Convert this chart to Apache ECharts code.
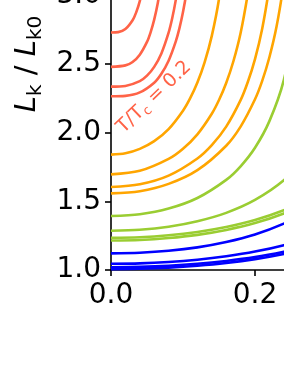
<!DOCTYPE html>
<html><head><meta charset="utf-8">
<script src="https://cdn.jsdelivr.net/npm/echarts@6/dist/echarts.min.js"></script>
<style>html,body{margin:0;padding:0;background:#fff;overflow:hidden;width:284px;height:367px;position:relative}
#c{position:absolute;left:0;top:-150px;width:500px;height:517px}</style>
</head><body><div id="c"></div>
<script>
// values: [x, Lk/Lk0]
const red1 = [[0,2.729],[0.01,2.732],[0.02,2.755],[0.03,2.819],[0.035,2.876],[0.04,2.958],[0.045,3.074],[0.05,3.24]];
const red2 = [[0,2.479],[0.02,2.49],[0.03,2.515],[0.04,2.568],[0.05,2.661],[0.055,2.731],[0.06,2.823],[0.065,2.944],[0.07,3.107],[0.075,3.333]];
const red3 = [[0,2.335],[0.02,2.34],[0.04,2.375],[0.05,2.415],[0.06,2.479],[0.07,2.577],[0.08,2.728],[0.085,2.833],[0.09,2.967],[0.095,3.141]];
const red4 = [[0,2.265],[0.02,2.268],[0.04,2.293],[0.06,2.364],[0.07,2.429],[0.08,2.524],[0.09,2.665],[0.095,2.759],[0.10,2.878],[0.105,3.028],[0.11,3.224]];

const orange1 = [[0,1.84],[0.02,1.85],[0.04,1.882],[0.06,1.938],[0.08,2.026],[0.10,2.16],[0.11,2.251],[0.12,2.365],[0.13,2.512],[0.14,2.705],[0.15,2.973],[0.16,3.369]];
const orange2 = [[0,1.696],[0.04,1.722],[0.08,1.809],[0.10,1.883],[0.12,1.988],[0.14,2.138],[0.15,2.238],[0.16,2.362],[0.17,2.52],[0.18,2.726],[0.19,3.012],[0.195,3.202]];
const orange3 = [[0,1.604],[0.04,1.624],[0.08,1.687],[0.12,1.812],[0.14,1.909],[0.16,2.044],[0.18,2.237],[0.19,2.369],[0.20,2.536],[0.21,2.757],[0.22,3.064],[0.225,3.27]];
const orange4 = [[0,1.558],[0.04,1.574],[0.08,1.627],[0.12,1.727],[0.16,1.905],[0.18,2.044],[0.20,2.243],[0.21,2.377],[0.22,2.549],[0.23,2.774],[0.24,3.087],[0.245,3.297]];

const green1 = [[0,1.393],[0.04,1.406],[0.08,1.447],[0.12,1.524],[0.16,1.656],[0.18,1.755],[0.20,1.89],[0.22,2.084],[0.24,2.383],[0.26,2.921]];
const green2 = [[0,1.286],[0.04,1.293],[0.08,1.315],[0.12,1.355],[0.16,1.416],[0.20,1.51],[0.24,1.653],[0.27,1.818]];
const green3 = [[0,1.235],[0.04,1.239],[0.08,1.253],[0.12,1.277],[0.16,1.313],[0.20,1.364],[0.24,1.435],[0.27,1.507]];
const green4 = [[0,1.215],[0.04,1.219],[0.08,1.233],[0.12,1.256],[0.16,1.292],[0.20,1.342],[0.24,1.412],[0.27,1.483]];

const blue1 = [[0,1.121],[0.04,1.126],[0.08,1.14],[0.12,1.165],[0.16,1.204],[0.20,1.259],[0.24,1.338],[0.27,1.42]];
const blue2 = [[0,1.045],[0.04,1.048],[0.08,1.058],[0.12,1.075],[0.16,1.10],[0.20,1.134],[0.24,1.181],[0.27,1.228]];
const blue3 = [[0,1.02],[0.04,1.023],[0.08,1.031],[0.12,1.045],[0.16,1.066],[0.20,1.094],[0.24,1.133],[0.27,1.169]];
const blue4 = [[0,1.006],[0.04,1.009],[0.08,1.017],[0.12,1.031],[0.16,1.051],[0.20,1.079],[0.24,1.117],[0.27,1.153]];

const xTicks = [0.0, 0.2, 0.4];
const yTicks = [1.0, 1.5, 2.0, 2.5, 3.0, 3.5, 4.0];
const annotationText = 'T/T';
const annotationSub = 'c';
const annotationValue = ' = 0.2';
const annotationAt = [0.06, 2.258];

const palette = {red:'#ff6347', orange:'#ffa500', green:'#9acd32', blue:'#0000ff'};
const groups = [
  [palette.red, [red1, red2, red3, red4]],
  [palette.orange, [orange1, orange2, orange3, orange4]],
  [palette.green, [green1, green2, green3, green4]],
  [palette.blue, [blue1, blue2, blue3, blue4]]
];
const series = [];
groups.forEach(([color, arrs]) => arrs.forEach(d => series.push({
  type:'line', data:d, showSymbol:false, smooth:0.3,
  lineStyle:{color, width:2.6}, itemStyle:{color}, silent:true
})));

const font = 'DejaVu Sans';
const chart = echarts.init(document.getElementById('c'), null, {renderer:'canvas'});
chart.setOption({
  animation:false,
  backgroundColor:'#fff',
  grid:{left:111, right:101, top:8, bottom:97, containLabel:false, outerBoundsMode:'none'},
  xAxis:{type:'value', min:xTicks[0], max:xTicks[xTicks.length-1], interval:0.2,
    axisLine:{lineStyle:{color:'#000', width:1.6}},
    axisTick:{length:6, lineStyle:{color:'#000', width:1.6}},
    axisLabel:{fontFamily:font, fontSize:28, color:'#000', margin:12, formatter:v=>v.toFixed(1)},
    splitLine:{show:false}},
  yAxis:{type:'value', min:yTicks[0], max:yTicks[yTicks.length-1], interval:0.5,
    axisLine:{lineStyle:{color:'#000', width:1.6}},
    axisTick:{length:6, lineStyle:{color:'#000', width:1.6}},
    axisLabel:{fontFamily:font, fontSize:28, color:'#000', margin:10, formatter:v=>v.toFixed(1)},
    splitLine:{show:false},
    name:'{L|L}{s|k}{n| / }{L|L}{s|k0}', nameLocation:'middle', nameRotate:90, nameGap:60,
    nameTextStyle:{rich:{
      L:{fontFamily:font, fontStyle:'italic', fontSize:29, lineHeight:36, color:'#000', verticalAlign:'middle'},
      n:{fontFamily:font, fontSize:29, lineHeight:36, color:'#000', verticalAlign:'middle'},
      s:{fontFamily:font, fontSize:20, lineHeight:20, color:'#000', verticalAlign:'bottom'}
    }}},
  series
});
const p = chart.convertToPixel({gridIndex:0}, annotationAt);
chart.setOption({graphic:[{
  type:'text', x:p[0], y:p[1], rotation:44*Math.PI/180, silent:true,
  style:{text:'{a|'+annotationText+'}{b|'+annotationSub+'}{a|'+annotationValue+'}', align:'center', verticalAlign:'middle',
    rich:{a:{fontFamily:font, fontSize:19, lineHeight:24, fill:palette.red, verticalAlign:'middle'},
          b:{fontFamily:font, fontSize:13, lineHeight:14, fill:palette.red, verticalAlign:'bottom'}}}
}]});
</script></body></html>
